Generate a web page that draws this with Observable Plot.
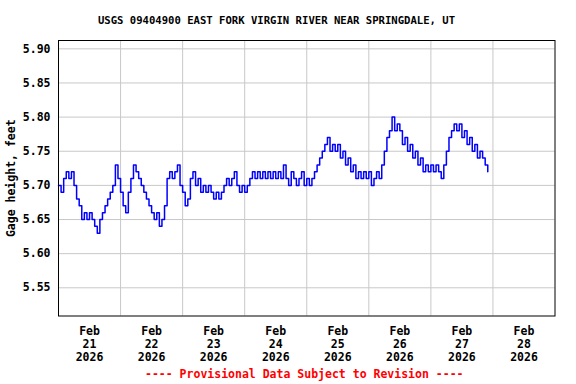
<!DOCTYPE html>
<html><head><meta charset="utf-8">
<script src="https://cdn.jsdelivr.net/npm/d3@7"></script>
<script src="https://cdn.jsdelivr.net/npm/@observablehq/plot@0.6"></script>
<style>
body{margin:0;background:#fff;}
#wrap{position:relative;width:576px;height:384px;font-family:"DejaVu Sans Mono",monospace;font-weight:bold;}
#chart{position:absolute;left:0;top:0;}
#title{position:absolute;left:0;top:14px;width:553px;text-align:center;font-size:10.6px;line-height:12px;white-space:nowrap;color:#000;}
#foot{position:absolute;left:145px;top:368px;font-size:11.5px;line-height:13px;white-space:nowrap;color:#ff0000;}
</style></head>
<body><div id="wrap"><div id="chart"></div><div id="title"></div><div id="foot"></div></div>
<script>
const titleText = "USGS 09404900 EAST FORK VIRGIN RIVER NEAR SPRINGDALE, UT";
const footText = "---- Provisional Data Subject to Revision ----";
const yLabel = "Gage height, feet";

// hourly gage height readings (feet) starting Feb 21 2026 00:00
const startTime = Date.UTC(2026, 1, 21, 0);
const gageHeight = [
  5.70,5.69,5.71,5.72,5.71,5.72,5.70,5.68,5.67,5.65,
  5.66,5.65,5.66,5.65,5.64,5.63,5.65,5.66,5.67,5.68,
  5.69,5.70,5.73,5.71,5.69,5.67,5.66,5.69,5.71,5.73,
  5.72,5.71,5.70,5.69,5.68,5.67,5.66,5.65,5.66,5.64,
  5.65,5.67,5.71,5.72,5.71,5.72,5.73,5.70,5.69,5.67,
  5.68,5.71,5.72,5.70,5.71,5.69,5.70,5.69,5.70,5.69,
  5.68,5.69,5.68,5.69,5.70,5.71,5.70,5.71,5.72,5.70,
  5.69,5.70,5.69,5.70,5.71,5.72,5.71,5.72,5.71,5.72,
  5.71,5.72,5.71,5.72,5.71,5.72,5.71,5.73,5.71,5.70,
  5.72,5.71,5.70,5.71,5.72,5.70,5.71,5.70,5.71,5.72,
  5.73,5.74,5.75,5.76,5.77,5.75,5.76,5.75,5.76,5.74,
  5.75,5.73,5.74,5.72,5.73,5.71,5.72,5.71,5.72,5.71,
  5.72,5.70,5.71,5.72,5.71,5.73,5.75,5.77,5.78,5.80,
  5.78,5.79,5.78,5.76,5.77,5.75,5.76,5.74,5.75,5.73,
  5.74,5.72,5.73,5.72,5.73,5.72,5.73,5.72,5.71,5.73,
  5.75,5.77,5.78,5.79,5.78,5.79,5.77,5.78,5.76,5.77,
  5.75,5.76,5.74,5.75,5.74,5.73,5.72
];

const yTicks = [5.55, 5.60, 5.65, 5.70, 5.75, 5.80, 5.85, 5.90];
const yDomain = [5.5087, 5.9122];
const xDays = [21, 22, 23, 24, 25, 26, 27, 28];
const xTickLabels = ["Feb\n21\n2026","Feb\n22\n2026","Feb\n23\n2026","Feb\n24\n2026","Feb\n25\n2026","Feb\n26\n2026","Feb\n27\n2026","Feb\n28\n2026"];
const gridDays = [22, 23, 24, 25, 26, 27, 28];

document.getElementById("title").textContent = titleText;
document.getElementById("foot").textContent = footText;

const data = gageHeight.map((v, i) => ({t: new Date(startTime + i * 3600e3), v}));
const noonTicks = xDays.map(d => new Date(Date.UTC(2026, 1, d, 12)));
const midnights = gridDays.map(d => new Date(Date.UTC(2026, 1, d, 0)));

const chart = Plot.plot({
  width: 576,
  height: 384,
  marginTop: 40,
  marginBottom: 68.5,
  marginLeft: 58,
  marginRight: 21.5,
  style: {fontFamily: "'DejaVu Sans Mono', monospace", fontSize: "11.5px", fontWeight: "bold", background: "#fff", color: "#000"},
  x: {type: "utc", domain: [new Date(Date.UTC(2026, 1, 21, 0)), new Date(Date.UTC(2026, 2, 1, 0))]},
  y: {domain: yDomain},
  marks: [
    Plot.gridY(yTicks, {stroke: "#c8c8c8", strokeOpacity: 1}),
    Plot.gridX(midnights, {stroke: "#c8c8c8", strokeOpacity: 1}),
    Plot.line(data, {x: "t", y: "v", stroke: "#0000ff", strokeWidth: 1.5, curve: "step-after"}),
    Plot.axisY(yTicks, {tickSize: 0, tickPadding: 8, tickFormat: d3.format(".2f"), label: yLabel, labelAnchor: "center", labelArrow: "none", labelOffset: 52}),
    Plot.axisX(noonTicks, {tickSize: 0, tickPadding: 10, tickFormat: (d, i) => xTickLabels[i], lineHeight: 1.13, label: null}),
    Plot.frame({stroke: "#000", strokeWidth: 1})
  ]
});
document.getElementById("chart").appendChild(chart);
</script>
</body></html>
